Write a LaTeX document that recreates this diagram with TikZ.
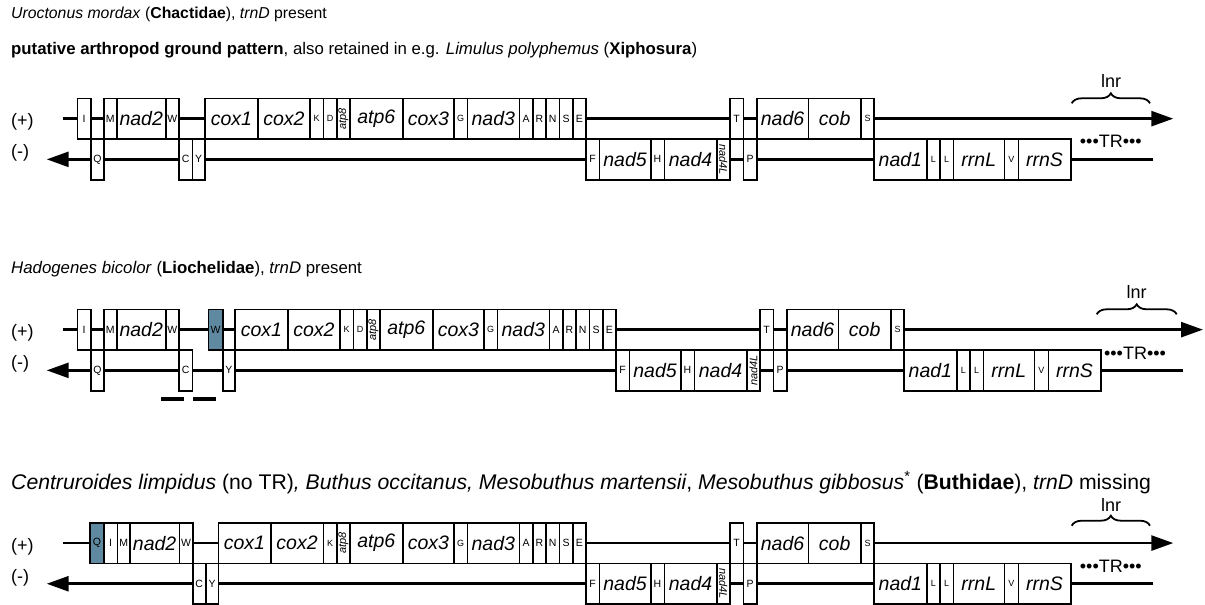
\documentclass[tikz,border=0pt]{standalone}
\usepackage{fontspec}
\setmainfont{Liberation Sans}
\usepackage{tikz}
\usetikzlibrary{arrows.meta, decorations.pathreplacing}

\definecolor{trnhl}{RGB}{94,137,160}
\newcommand{\genefont}{\fontsize{19.5}{22}\selectfont\itshape}
\newcommand{\trnfont}{\fontsize{10.5}{12}\selectfont}
\newcommand{\trnsmall}{\fontsize{9}{10}\selectfont}
\newcommand{\vertfont}{\fontsize{11}{12}\selectfont\itshape}

% one gene box: [style]{name}{left x}{right x}{row}{label}
\newcommand{\gbox}[6][gene]{%
  \pgfmathsetmacro{\boxw}{#4-#3}%
  \node[#1, minimum width=\boxw pt, anchor=north west] (#2) at (#3,#5) {#6};}
\def\toprow{0}
\def\botrow{40.7}

\begin{document}
\begin{tikzpicture}[
    x=1pt, y=-1pt,
    gene/.style={draw, fill=white, line width=1.6pt, inner sep=0pt, outer sep=0pt,
                 minimum height=40.7pt, font=\genefont},
    trn/.style={gene, font=\trnfont},
    trns/.style={gene, font=\trnsmall},
    trnh/.style={trn, fill=trnhl},
    vrt/.style={gene, font=\vertfont},
    fwd/.style={line width=2.6pt, -{Triangle[length=22pt, width=15pt]}},
    lbrace/.style={decorate, decoration={brace, amplitude=10pt}, line width=1.8pt},
    ttl/.style={anchor=base west, inner sep=0pt},
    strandlab/.style={anchor=west, inner sep=0pt, font=\fontsize{18}{20}\selectfont},
    trlab/.style={inner sep=0pt, font=\fontsize{18}{20}\selectfont},
    lnrlab/.style={inner sep=0pt, font=\fontsize{18}{20}\selectfont}
  ]
  \useasboundingbox (0,0) rectangle (1205,605);

  % titles
  \node[ttl, font=\fontsize{15.8}{19}\selectfont] (titleA) at (11,19)
    {\textit{Uroctonus mordax} (\textbf{Chactidae}), \textit{trnD} present};
  \node[ttl, font=\fontsize{16.8}{20}\selectfont] (titleB) at (11,54)
    {\textbf{putative arthropod ground pattern}, also retained in e.g. \textit{Limulus polyphemus} (\textbf{Xiphosura})};
  \node[ttl, font=\fontsize{16.8}{20}\selectfont] (titleC) at (11,273)
    {\textit{Hadogenes bicolor} (\textbf{Liochelidae}), \textit{trnD} present};
  \node[ttl, font=\fontsize{21.2}{24}\selectfont] (titleD) at (11,489)
    {\textit{Centruroides limpidus} (no TR)\textit{, Buthus occitanus, Mesobuthus martensii}, \textit{Mesobuthus gibbosus}\textsuperscript{*} (\textbf{Buthidae}), \textit{trnD} missing};

  % Uroctonus
  \begin{scope}[shift={(0,98.3)}]
    \coordinate (uplusL) at (63,20.35);
    \coordinate (uplusR) at (1173.3,20.35);
    \coordinate (uminL) at (46.7,61.05);
    \coordinate (uminR) at (1153.3,61.05);
    \draw[fwd] (uplusL) -- (uplusR);
    \draw[fwd] (uminR) -- (uminL);
    \node[strandlab] (uplus) at (11,24) {(+)};
    \node[strandlab] (umin) at (11,55) {(-)};
    \gbox[trn]{uI}{77.3}{90.7}{\toprow}{I}
    \gbox[trn]{uM}{104}{116.7}{\toprow}{M}
    \gbox{unad2}{116.7}{165.7}{\toprow}{nad2}
    \gbox[trn]{uW}{165.7}{179}{\toprow}{W}
    \gbox{ucox1}{205}{257.7}{\toprow}{cox1}
    \gbox{ucox2}{257.7}{310}{\toprow}{cox2}
    \gbox[trns]{uK}{310}{323.3}{\toprow}{K}
    \gbox[trns]{uD}{323.3}{336.7}{\toprow}{D}
    \gbox[vrt]{uatp8}{336.7}{350}{\toprow}{\rotatebox{90}{atp8}}
    \gbox{uatp6}{350}{402.7}{\toprow}{atp6}
    \gbox{ucox3}{402.7}{454}{\toprow}{cox3}
    \gbox[trns]{uG}{454}{467.3}{\toprow}{G}
    \gbox{unad3}{467.3}{519.3}{\toprow}{nad3}
    \gbox[trn]{uA}{519.3}{532.7}{\toprow}{A}
    \gbox[trn]{uR}{532.7}{546}{\toprow}{R}
    \gbox[trn]{uN}{546}{559.3}{\toprow}{N}
    \gbox[trn]{uS}{559.3}{572.7}{\toprow}{S}
    \gbox[trn]{uE}{572.7}{586}{\toprow}{E}
    \gbox[trn]{uT}{730}{743.3}{\toprow}{T}
    \gbox{unad6}{756.7}{808.3}{\toprow}{nad6}
    \gbox{ucob}{808.3}{861}{\toprow}{cob}
    \gbox[trns]{uS2}{861}{874}{\toprow}{S}
    \gbox[trn]{uQ}{90.7}{104}{\botrow}{Q}
    \gbox[trn]{uC}{179}{192.3}{\botrow}{C}
    \gbox[trn]{uY}{192.3}{205}{\botrow}{Y}
    \gbox[trn]{uF}{586}{599.3}{\botrow}{F}
    \gbox{unad5}{599.3}{650.7}{\botrow}{nad5}
    \gbox[trn]{uH}{650.7}{664.3}{\botrow}{H}
    \gbox{unad4}{664.3}{716.7}{\botrow}{nad4}
    \gbox[vrt]{unad4L}{716.7}{730}{\botrow}{\rotatebox{-90}{nad4L}}
    \gbox[trn]{uP}{743.3}{756.7}{\botrow}{P}
    \gbox{unad1}{874}{926.7}{\botrow}{nad1}
    \gbox[trns]{uL1}{926.7}{940}{\botrow}{L}
    \gbox[trns]{uL2}{940}{953.3}{\botrow}{L}
    \gbox{urrnL}{953.3}{1004.3}{\botrow}{rrnL}
    \gbox[trns]{uV}{1004.3}{1018.3}{\botrow}{V}
    \gbox{urrnS}{1018.3}{1070.7}{\botrow}{rrnS}
    \coordinate (ubrL) at (1071.7,5);
    \coordinate (ubrR) at (1150,5);
    \draw[lbrace] (ubrL) -- (ubrR);
    \node[lnrlab] (ulnr) at (1111,-17) {lnr};
    \node[trlab] (utr) at (1110.8,43.4) {•••TR•••};
  \end{scope}

  % Hadogenes
  \begin{scope}[shift={(0,309.3)}]
    \coordinate (hplusL) at (63,20.35);
    \coordinate (hplusR) at (1203,20.35);
    \coordinate (hminL) at (46.7,61.05);
    \coordinate (hminR) at (1183.3,61.05);
    \draw[fwd] (hplusL) -- (hplusR);
    \draw[fwd] (hminR) -- (hminL);
    \node[strandlab] (hplus) at (11,24) {(+)};
    \node[strandlab] (hmin) at (11,55) {(-)};
    \gbox[trn]{hI}{77.3}{90.7}{\toprow}{I}
    \gbox[trn]{hM}{104}{116.7}{\toprow}{M}
    \gbox{hnad2}{116.7}{165.7}{\toprow}{nad2}
    \gbox[trn]{hW}{165.7}{179}{\toprow}{W}
    \gbox[trnh]{hW2}{208.3}{222.7}{\toprow}{W}
    \gbox{hcox1}{235}{287.7}{\toprow}{cox1}
    \gbox{hcox2}{287.7}{340}{\toprow}{cox2}
    \gbox[trns]{hK}{340}{353.3}{\toprow}{K}
    \gbox[trns]{hD}{353.3}{366.7}{\toprow}{D}
    \gbox[vrt]{hatp8}{366.7}{380}{\toprow}{\rotatebox{90}{atp8}}
    \gbox{hatp6}{380}{432.7}{\toprow}{atp6}
    \gbox{hcox3}{432.7}{484}{\toprow}{cox3}
    \gbox[trns]{hG}{484}{497.3}{\toprow}{G}
    \gbox{hnad3}{497.3}{549.3}{\toprow}{nad3}
    \gbox[trn]{hA}{549.3}{562.7}{\toprow}{A}
    \gbox[trn]{hR}{562.7}{576}{\toprow}{R}
    \gbox[trn]{hN}{576}{589.3}{\toprow}{N}
    \gbox[trn]{hS}{589.3}{602.7}{\toprow}{S}
    \gbox[trn]{hE}{602.7}{616}{\toprow}{E}
    \gbox[trn]{hT}{760}{773.3}{\toprow}{T}
    \gbox{hnad6}{786.7}{838.3}{\toprow}{nad6}
    \gbox{hcob}{838.3}{891}{\toprow}{cob}
    \gbox[trns]{hS2}{891}{904}{\toprow}{S}
    \gbox[trn]{hQ}{90.7}{104}{\botrow}{Q}
    \gbox[trn]{hC}{179}{192.3}{\botrow}{C}
    \gbox[trn]{hY}{222.7}{235}{\botrow}{Y}
    \gbox[trn]{hF}{616}{629.3}{\botrow}{F}
    \gbox{hnad5}{629.3}{680.7}{\botrow}{nad5}
    \gbox[trn]{hH}{680.7}{694.3}{\botrow}{H}
    \gbox{hnad4}{694.3}{746.7}{\botrow}{nad4}
    \gbox[vrt]{hnad4L}{746.7}{760}{\botrow}{\rotatebox{90}{nad4L}}
    \gbox[trn]{hP}{773.3}{786.7}{\botrow}{P}
    \gbox{hnad1}{904}{956.7}{\botrow}{nad1}
    \gbox[trns]{hL1}{956.7}{970}{\botrow}{L}
    \gbox[trns]{hL2}{970}{983.3}{\botrow}{L}
    \gbox{hrrnL}{983.3}{1034.3}{\botrow}{rrnL}
    \gbox[trns]{hV}{1034.3}{1048.3}{\botrow}{V}
    \gbox{hrrnS}{1048.3}{1100.7}{\botrow}{rrnS}
    % bars below trnC
    \fill (161,87.7) rectangle (184,91.7);
    \fill (192.7,87.7) rectangle (216,91.7);
    \coordinate (hbrL) at (1096.7,5);
    \coordinate (hbrR) at (1176.7,5);
    \draw[lbrace] (hbrL) -- (hbrR);
    \node[lnrlab] (hlnr) at (1136.7,-17) {lnr};
    \node[trlab] (htr) at (1135,43.7) {•••TR•••};
  \end{scope}

  % Centruroides and Buthidae
  \begin{scope}[shift={(0,522.7)}]
    \coordinate (cplusL) at (63,20.35);
    \coordinate (cplusR) at (1173.3,20.35);
    \coordinate (cminL) at (46.7,61.05);
    \coordinate (cminR) at (1153.3,61.05);
    \draw[fwd] (cplusL) -- (cplusR);
    \draw[fwd] (cminR) -- (cminL);
    \node[strandlab] (cplus) at (11,24) {(+)};
    \node[strandlab] (cmin) at (11,55) {(-)};
    \gbox[trnh]{cQ}{90}{104}{\toprow}{Q}
    \gbox[trn]{cI}{104}{117.3}{\toprow}{I}
    \gbox[trn]{cM}{117.3}{130}{\toprow}{M}
    \gbox{cnad2}{130}{179.3}{\toprow}{nad2}
    \gbox[trn]{cW}{179.3}{192.7}{\toprow}{W}
    \gbox{ccox1}{218.3}{270.7}{\toprow}{cox1}
    \gbox{ccox2}{270.7}{323.3}{\toprow}{cox2}
    \gbox[trns]{cK}{323.3}{336.7}{\toprow}{K}
    \gbox[vrt]{catp8}{336.7}{350}{\toprow}{\rotatebox{90}{atp8}}
    \gbox{catp6}{350}{402.7}{\toprow}{atp6}
    \gbox{ccox3}{402.7}{454}{\toprow}{cox3}
    \gbox[trns]{cG}{454}{467.3}{\toprow}{G}
    \gbox{cnad3}{467.3}{519.3}{\toprow}{nad3}
    \gbox[trn]{cA}{519.3}{532.7}{\toprow}{A}
    \gbox[trn]{cR}{532.7}{546}{\toprow}{R}
    \gbox[trn]{cN}{546}{559.3}{\toprow}{N}
    \gbox[trn]{cS}{559.3}{572.7}{\toprow}{S}
    \gbox[trn]{cE}{572.7}{586}{\toprow}{E}
    \gbox[trn]{cT}{730}{743.3}{\toprow}{T}
    \gbox{cnad6}{756.7}{808.3}{\toprow}{nad6}
    \gbox{ccob}{808.3}{861}{\toprow}{cob}
    \gbox[trns]{cS2}{861}{874}{\toprow}{S}
    \gbox[trn]{cC}{192.7}{205.7}{\botrow}{C}
    \gbox[trn]{cY}{205.7}{218.3}{\botrow}{Y}
    \gbox[trn]{cF}{586}{599.3}{\botrow}{F}
    \gbox{cnad5}{599.3}{650.7}{\botrow}{nad5}
    \gbox[trn]{cH}{650.7}{664.3}{\botrow}{H}
    \gbox{cnad4}{664.3}{716.7}{\botrow}{nad4}
    \gbox[vrt]{cnad4L}{716.7}{730}{\botrow}{\rotatebox{-90}{nad4L}}
    \gbox[trn]{cP}{743.3}{756.7}{\botrow}{P}
    \gbox{cnad1}{874}{926.7}{\botrow}{nad1}
    \gbox[trns]{cL1}{926.7}{940}{\botrow}{L}
    \gbox[trns]{cL2}{940}{953.3}{\botrow}{L}
    \gbox{crrnL}{953.3}{1004.3}{\botrow}{rrnL}
    \gbox[trns]{cV}{1004.3}{1018.3}{\botrow}{V}
    \gbox{crrnS}{1018.3}{1070.7}{\botrow}{rrnS}
    \coordinate (cbrL) at (1071.7,3);
    \coordinate (cbrR) at (1150,3);
    \draw[lbrace] (cbrL) -- (cbrR);
    \node[lnrlab] (clnr) at (1111,-18) {lnr};
    \node[trlab] (ctr) at (1110.8,43.3) {•••TR•••};
  \end{scope}
\end{tikzpicture}
\end{document}
